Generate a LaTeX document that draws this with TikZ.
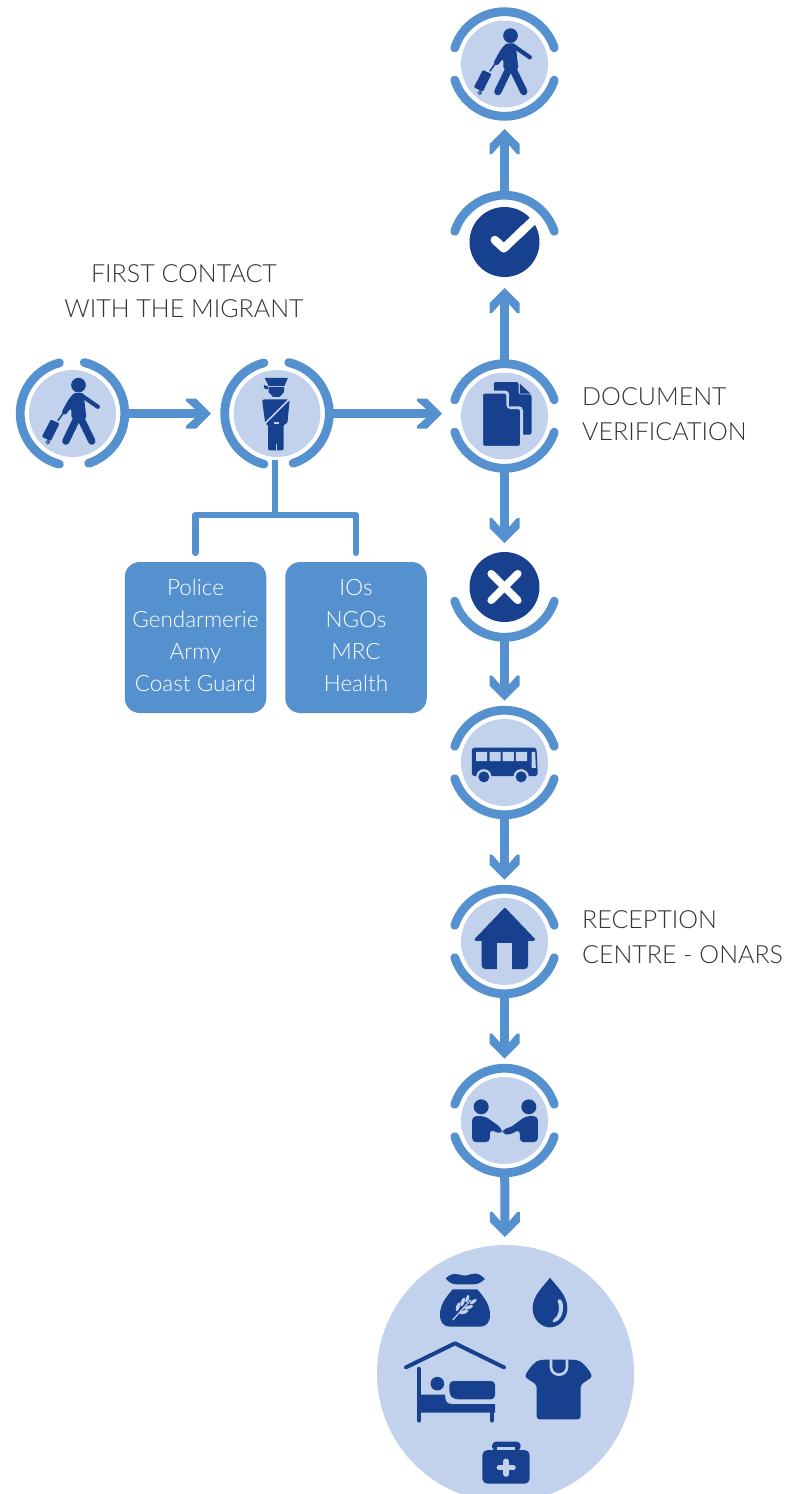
\documentclass[tikz,border=0pt]{standalone}
\usepackage{fontspec}
\setmainfont{Lato Light}
\usetikzlibrary{arrows.meta}
\definecolor{midblue}{HTML}{5591CF}
\definecolor{navy}{HTML}{17418F}
\definecolor{pale}{HTML}{C3D2EC}
\definecolor{txt}{HTML}{333333}
\pgfdeclarearrow{name=Chev,
  setup code={\pgfarrowssettipend{0pt}\pgfarrowssetlineend{-8pt}\pgfarrowssetbackend{-25pt}\pgfarrowssetvisualbackend{-8pt}},
  drawing code={\pgfpathmoveto{\pgfpoint{0pt}{0pt}}
    \pgfpathlineto{\pgfpoint{-15pt}{15pt}}\pgfpathlineto{\pgfpoint{-25pt}{15pt}}
    \pgfpathlineto{\pgfpoint{-25pt}{12.5pt}}\pgfpathlineto{\pgfpoint{-16pt}{4.5pt}}
    \pgfpathlineto{\pgfpoint{-16pt}{-4.5pt}}\pgfpathlineto{\pgfpoint{-25pt}{-12.5pt}}
    \pgfpathlineto{\pgfpoint{-25pt}{-15pt}}\pgfpathlineto{\pgfpoint{-15pt}{-15pt}}
    \pgfpathclose\pgfusepathqfill}}
\newcommand{\boxlines}[1]{\raisebox{2pt}{\begin{tabular}{@{}c@{}}#1\end{tabular}}}
\tikzset{
  x=1pt,y=1pt,
  hub/.style={circle,fill=pale,draw=none,minimum size=87pt,inner sep=0pt,outer sep=12.5pt},
  darkhub/.style={circle,fill=navy,draw=none,minimum size=70pt,inner sep=0pt,outer sep=0pt},
  bigcircle/.style={circle,fill=pale,draw=none,minimum size=257pt,inner sep=0pt,outer sep=0pt},
  ringarc/.style={draw=midblue,line width=8.8pt,line cap=round},
  conn/.style={draw=midblue,line width=9pt,-{Chev}},
  treeline/.style={draw=midblue,line width=6.5pt,line cap=round,line join=round},
  infobox/.style={rectangle,rounded corners=15pt,fill=midblue,text=white,minimum width=141.5pt,minimum height=151pt,inner sep=0pt,font=\fontsize{22.5}{32}\selectfont},
  label/.style={text=txt,inner sep=0pt,font=\fontsize{25}{35}\selectfont},
  ringLR/.pic={\draw[ringarc] (104.5:52.3) arc[start angle=104.5,end angle=255.5,radius=52.3];
               \draw[ringarc] (77:52.3) arc[start angle=77,end angle=-72,radius=52.3];},
  ringTB/.pic={\draw[ringarc] (162:52.3) arc[start angle=162,end angle=18,radius=52.3];
               \draw[ringarc] (198:52.3) arc[start angle=198,end angle=342,radius=52.3];},
  ringT/.pic={\draw[ringarc] (162:52.3) arc[start angle=162,end angle=18,radius=52.3];},
  ringB/.pic={\draw[ringarc] (198:52.3) arc[start angle=198,end angle=342,radius=52.3];},
  zoomunits/.style={x=0.33333pt,y=-0.33333pt},
  walker/.pic={\begin{scope}[yshift=0.7pt,zoomunits]
    \fill[navy] (18,-83) circle (22);
    \fill[navy,rounded corners=2.5pt] (5,-60) -- (33,-60) -- (42,18) -- (-3,18) -- (-4,-15) -- (-22,8) -- (-34,0) -- (-12,-40) -- cycle;
    \draw[navy,line width=4.2pt,line cap=round] (30,-50) -- (76,-18);
    \draw[navy,line width=7.3pt,line cap=round] (14,15) -- (-20,85);
    \draw[navy,line width=7.3pt,line cap=round] (24,15) -- (58,85);
    \fill[navy,rounded corners=1pt] (-92,72) -- (-65,20) -- (-39,32) -- (-65,85) -- cycle;
    \draw[navy,line width=1.5pt] (-44,24) -- (-27,0);
    \draw[navy,line width=1pt,fill=white] (-74,88) circle (5);
  \end{scope}},
  officer/.pic={\begin{scope}[yshift=0.7pt,zoomunits]
    \fill[navy] (-37,-105) -- (33,-105) -- (22,-80) -- (-25,-80) -- cycle;
    \fill[navy] (-40,-84) -- (-26,-78) -- (-28,-70) -- (-38,-73) -- cycle;
    \fill[navy] (-25,-77) -- (21,-77) -- (21,-62) -- (8,-48) -- (-12,-48) -- (-25,-62) -- cycle;
    \fill[navy,rounded corners=2pt] (-45,-40) -- (38,-40) -- (31,34) -- (20,34) -- (20,113) -- (-27,113) -- (-27,34) -- (-35,34) -- cycle;
    \draw[pale,line width=1.6pt] (40,-44) -- (-40,36);
    \fill[pale] (-10,28) rectangle (5,33);
    \draw[pale,line width=.8pt] (-3,95) -- (-3,113);
  \end{scope}},
  papers/.pic={\begin{scope}[zoomunits]
    \fill[navy,rounded corners=2pt] (-32,-102) -- (42,-102) -- (42,-65) -- (81,-65) -- (81,56) -- (40,56) -- (-32,0) -- cycle;
    \fill[navy] (46,-97) -- (78,-67) -- (46,-67) -- cycle;
    \fill[navy,draw=pale,line width=3pt,rounded corners=3pt] (-69,-72) -- (10,-72) -- (10,-25) -- (51,-25) -- (51,94) -- (-69,94) -- cycle;
    \fill[navy] (14,-64) -- (46,-29) -- (14,-29) -- cycle;
  \end{scope}},
  tick/.pic={\begin{scope}[zoomunits]
    \draw[white,line width=8.5pt,line cap=round,line join=round] (-29,-6) -- (-2,19) -- (60,-40);
    \draw[white,line width=8.5pt] (40,-21) -- (95,-73);
  \end{scope}},
  cross/.pic={\begin{scope}[zoomunits]
    \draw[white,line width=7.5pt,line cap=round] (-40,-40) -- (40,40) (-40,40) -- (40,-40);
  \end{scope}},
  coach/.pic={\begin{scope}[zoomunits]
    \fill[navy,rounded corners=3pt] (-98,41) -- (-98,-45) -- (96,-45) -- (100,41) -- cycle;
    \fill[pale] (-85,-32) rectangle (-52,-4) (-45,-32) rectangle (-12,-4) (-6,-32) rectangle (28,-4) (34,-32) rectangle (68,-4);
    \fill[pale] (81,-32) -- (92,-32) -- (94,16) -- (81,16) -- cycle;
    \fill[pale] (-62,43) circle (23) (50,43) circle (23);
    \fill[navy] (-62,43) circle (16.5) (50,43) circle (16.5);
  \end{scope}},
  house/.pic={\begin{scope}[zoomunits]
    \draw[navy,fill=navy,line width=2.5pt,line join=round] (1,-97) -- (88,-6) -- (-86,-6) -- cycle;
    \fill[navy,rounded corners=4pt] (-69,-15) -- (71,-15) -- (71,83) -- (-69,83) -- cycle;
    \fill[pale] (-22,5) rectangle (23,84);
  \end{scope}},
  shake/.pic={\begin{scope}[zoomunits]
    \fill[navy] (-70,-41) circle (22.5) (73,-41) circle (22.5);
    \fill[navy,rounded corners=4pt] (-97,65) -- (-97,-13) -- (-58,-13) -- (-7,24) -- (-10,41) -- (-44,27) -- (-44,65) -- cycle;
    \fill[navy,rounded corners=4pt] (100,65) -- (100,-13) -- (63,-13) -- (18,21) -- (-6,26) -- (-6,40) -- (13,44) -- (46,27) -- (46,65) -- cycle;
  \end{scope}},
  relief/.pic={\begin{scope}[zoomunits]
    % sack
    \fill[navy] (197,85) .. controls (205,78) and (215,68) .. (235,73) .. controls (250,78) and (260,78) .. (275,72) .. controls (295,66) and (305,78) .. (315,87) .. controls (305,95) and (295,105) .. (275,103) -- (235,103) .. controls (215,105) and (205,95) .. (197,85) -- cycle;
    \fill[navy] (218,118) -- (292,118) .. controls (315,145) and (330,165) .. (330,195) .. controls (330,218) and (318,230) .. (300,230) -- (210,230) .. controls (192,230) and (180,218) .. (180,195) .. controls (180,165) and (195,145) .. (218,118) -- cycle;
    \draw[pale,line width=1.2pt] (218,210) -- (272,150);
    \fill[pale,rotate around={70:(234,170)}] (234,170) ellipse (14 and 5.5);
    \fill[pale,rotate around={70:(248,156)}] (248,156) ellipse (14 and 5.5);
    \fill[pale,rotate around={70:(262,146)}] (262,146) ellipse (12 and 5);
    \fill[pale,rotate around={20:(252,186)}] (252,186) ellipse (14 and 5.5);
    \fill[pale,rotate around={20:(266,172)}] (266,172) ellipse (14 and 5.5);
    \fill[pale,rotate around={35:(280,155)}] (280,155) ellipse (12 and 5);
    % drop
    \fill[navy] (510,83) .. controls (490,110) and (458,135) .. (458,175) .. controls (458,210) and (485,232) .. (510,232) .. controls (535,232) and (562,210) .. (562,175) .. controls (562,135) and (530,110) .. (510,83) -- cycle;
    \fill[pale] (533,152) .. controls (537,144) and (546,148) .. (548,160) .. controls (553,190) and (540,213) .. (522,217) .. controls (517,216) and (516,212) .. (521,208) .. controls (535,200) and (541,180) .. (533,152) -- cycle;
    % shelter roof
    \draw[navy,line width=4pt,line cap=round,line join=round] (78,352) -- (225,280) -- (372,352);
    % bed
    \draw[navy,line width=3.8pt,line cap=round] (117,356) -- (117,512);
    \draw[navy,line width=3.8pt,line cap=round] (337,470) -- (337,512);
    \fill[navy] (117,434) -- (195,434) .. controls (195,452) and (200,462) .. (215,462) -- (345,462) -- (345,488) -- (117,488) -- cycle;
    \fill[navy] (172,401) circle (20.5);
    \fill[navy,rounded corners=4pt] (208,393) -- (345,393) -- (345,448) -- (222,448) -- (208,434) -- cycle;
    % shirt
    \fill[navy,rounded corners=3pt] (510,329) -- (490,329) .. controls (465,332) and (450,352) .. (433,380) -- (470,404) -- (470,508) -- (602,508) -- (602,404) -- (638,380) .. controls (622,352) and (605,332) .. (580,329) -- cycle;
    \draw[pale,line width=2.6pt] (513,328) -- (513,350) .. controls (513,366) and (525,374) .. (537,374) .. controls (549,374) and (561,366) .. (561,350) -- (561,328);
    % medical kit
    \fill[navy,rounded corners=4pt] (336,602) -- (336,575) -- (422,575) -- (422,602) -- cycle;
    \fill[pale] (351,591) rectangle (406,601);
    \fill[navy,rounded corners=5pt] (307,600) rectangle (449,701);
    \draw[pale,line width=5.5pt,line cap=round] (358,653) -- (399,653) (378.5,634) -- (378.5,672);
  \end{scope}}
}
\begin{document}
\begin{tikzpicture}
\useasboundingbox (0,-1494) rectangle (790,0);
\clip (0,-1494) rectangle (790,0);

% nodes
\node[hub] (start) at (72.5,-413.5) {};
\node[hub] (guard) at (277,-413.5) {};
\node[hub] (docs) at (504.5,-416) {};
\node[hub] (leave) at (504.5,-64) {};
\node[darkhub] (ok) at (504.5,-242) {};
\node[darkhub] (no) at (504.5,-587) {};
\node[hub] (bus) at (504.5,-762.5) {};
\node[hub] (home) at (504.5,-941.5) {};
\node[hub] (deal) at (504.5,-1120.5) {};
\node[bigcircle] (aid) at (505.5,-1373.5) {};
\coordinate (okarc) at (504.5,-247.5);
\coordinate (noarc) at (504.5,-585);
\coordinate (oktop) at (504.5,-191);
\coordinate (nobot) at (504.5,-641);
\coordinate (stemtop) at (275,-460);
\coordinate (fork) at (275,-515);

\node[infobox] (agencies) at (195.5,-637.5) {\boxlines{Police\\Gendarmerie\\Army\\Coast Guard}};
\node[infobox] (partners) at (356,-637.5) {\boxlines{IOs\\NGOs\\MRC\\Health}};

% rings
\pic at (start) {ringLR};
\pic at (guard) {ringLR};
\pic at (docs) {ringTB};
\pic at (leave) {ringTB};
\pic at (bus) {ringTB};
\pic at (home) {ringTB};
\pic at (deal) {ringTB};
\pic at (okarc) {ringT};
\pic at (noarc) {ringB};

% connectors
\draw[conn,shorten >=10pt] (start) -- (guard);
\draw[conn,shorten >=6.5pt] (guard.east) -- (guard.east -| docs.west);
\draw[conn,shorten >=11pt] (docs) -- (ok);
\draw[conn,shorten >=9pt] (oktop) -- (leave);
\draw[conn,shorten >=9pt] (docs) -- (no);
\draw[conn,shorten >=6pt] (nobot) -- (bus);
\draw[conn,shorten >=6pt] (bus) -- (home);
\draw[conn,shorten >=6pt] (home) -- (deal);
\draw[conn,shorten >=8pt] (deal) -- (aid);
\draw[treeline,line cap=butt] (stemtop) -- (fork);
\draw[treeline,shorten <=9pt] (agencies.north) |- (fork);
\draw[treeline,shorten <=9pt] (partners.north) |- (fork);

% icons
\pic at (start) {walker};
\pic at (leave) {walker};
\pic at (guard) {officer};
\pic at (docs) {papers};
\pic at (ok) {tick};
\pic at (no) {cross};
\pic at (bus) {coach};
\pic at (home) {house};
\pic at (deal) {shake};
\pic at (380,-1250) {relief};

% labels
\node[label,align=center] (firstlabel) at (184,-290.7) {FIRST CONTACT\\WITH THE MIGRANT};
\node[label,align=left,anchor=west] (doclabel) at (582,-413.7) {DOCUMENT\\VERIFICATION};
\node[label,align=left,anchor=west] (reclabel) at (582,-937.5) {RECEPTION\\CENTRE - ONARS};
\end{tikzpicture}
\end{document}
